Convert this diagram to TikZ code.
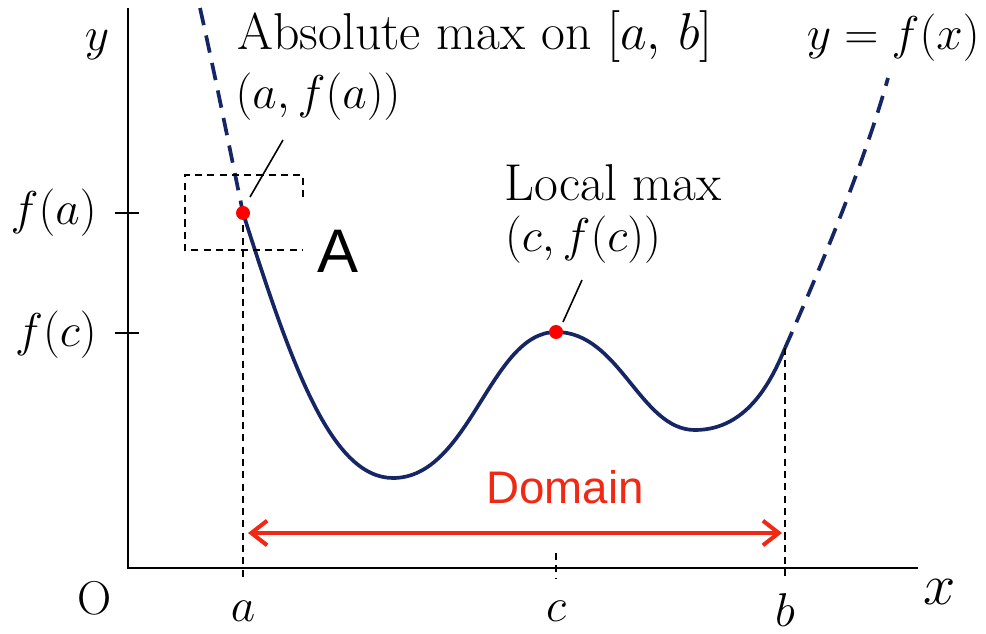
\documentclass[tikz,border=0pt]{standalone}
\usepackage{fix-cm}
\usepackage{fontspec}
\newfontfamily\sansfont{Liberation Sans}
\usetikzlibrary{arrows.meta, positioning}
\definecolor{curveblue}{RGB}{22,38,100}
\definecolor{domainred}{RGB}{240,40,20}

\begin{document}
\begin{tikzpicture}[
  x=0.02cm, y=-0.02cm,
  lbl/.style={font=\fontsize{27}{32}\selectfont, inner sep=0pt},
  wlbl/.style={font=\fontsize{29.5}{34}\selectfont, inner sep=0pt},
  axis/.style={line width=1.4pt},
  guide/.style={dash pattern=on 4pt off 3pt, line width=0.8pt},
  fcurve/.style={draw=curveblue, line width=2.1pt},
  fdash/.style={fcurve, dash pattern=on 10pt off 6pt},
  dot/.style={circle, fill=red, inner sep=0pt, minimum size=0.28cm},
  leader/.style={line width=0.9pt},
  arr/.style={{Straight Barb[length=9pt,width=14pt,line width=2.3pt]}-{Straight Barb[length=9pt,width=14pt,line width=2.3pt]},
              domainred, line width=2.2pt},
]
\useasboundingbox (0,0) rectangle (986,634);

% AXES
\coordinate (O) at (128,568);
\coordinate (xend) at (918,568);
\coordinate (yend) at (128,8);
\draw[axis] (yend) -- (O) -- (xend);
\node[lbl] (ylab) at (97,45) {$y$};
\node[lbl, font=\fontsize{33}{38}\selectfont] (xlab) at (940,592) {$x$};
\node[lbl] (olab) at (95,598) {O};

% TICKS ON Y
\coordinate (fa) at (128,213);
\coordinate (fc) at (128,333);
\draw[axis, line width=1.1pt] (fa) ++(-13,0) -- ++(24,0);
\draw[axis, line width=1.1pt] (fc) ++(-13,0) -- ++(24,0);
\node[lbl, anchor=east] (falab) at (97,213) {$f(a)$};
\node[lbl, anchor=east] (fclab) at (97,335) {$f(c)$};

% CURVE
\coordinate (pa) at (243,213);
\coordinate (pc) at (556,332);
\coordinate (pb) at (785,348);
\draw[fdash] (200,8) .. controls (215,75) and (230,150) .. (pa);
\draw[fcurve] (pa) .. controls (290,360) and (330,478) .. (393,478)
  .. controls (470,478) and (490,332) .. (pc)
  .. controls (620,332) and (640,430) .. (695,430)
  .. controls (745,430) and (770,385) .. (pb);
\draw[fdash] (pb) .. controls (825,258) and (865,160) .. (888,78);

% GUIDES
\draw[guide] (pa) -- (pa |- O) -- ++(0,10);
\draw[guide] (pb) -- (pb |- O) -- ++(0,10);
\draw[guide] (556,553) -- (pc |- O) -- ++(0,10);
\coordinate (boxtl) at (185,175);
\coordinate (boxbr) at (303,250);
\draw[guide] (boxbr |- boxtl) ++(0,22) -- (boxbr |- boxtl) -- (boxtl) -- (boxtl |- boxbr) -- (boxbr);

% POINTS
\node[dot] (da) at (pa) {};
\node[dot] (dc) at (pc) {};

% LABELS
\node[wlbl, anchor=base west] (absmax) at (237,50) {Absolute max on $[a,\,b]$};
\node[lbl] (alab) at (318,97) {$(a, f(a))$};
\draw[leader] (250,197) -- (283,140);
\node[wlbl] (locmax) at (613,183) {Local max};
\node[lbl] (clab) at (583,240) {$(c, f(c))$};
\draw[leader] (563,322) -- (582,280);
\node[lbl, anchor=east] (flab) at (980,38) {$y=f(x)$};
\node[lbl, font=\fontsize{35}{40}\sansfont] (Alab) at (338,251) {A};

% DOMAIN
\node[lbl, font=\fontsize{26}{30}\sansfont, text=domainred] (domlab) at (565,487) {Domain};
\coordinate (dl) at (248,533);
\coordinate (dr) at (782,533);
\draw[arr] (dl) -- (dr);

% X TICK LABELS
\node[lbl] (atick) at (243,611) {$a$};
\node[lbl] (ctick) at (556,611) {$c$};
\node[lbl] (btick) at (785,610) {$b$};

\end{tikzpicture}
\end{document}
